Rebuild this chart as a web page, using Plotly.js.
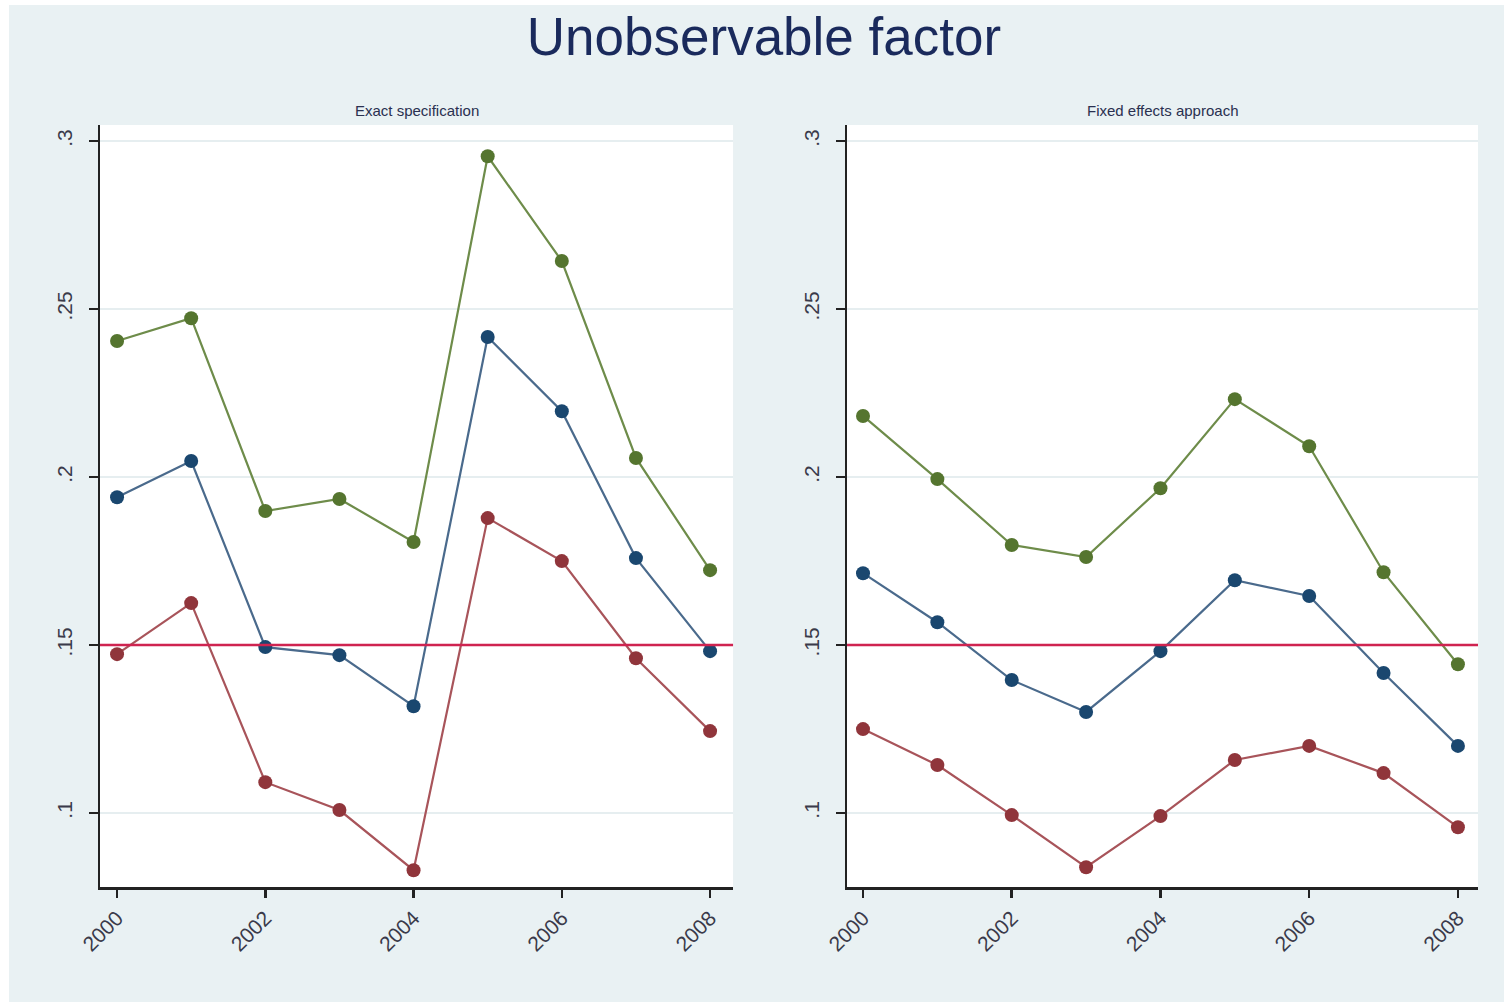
<!DOCTYPE html>
<html>
<head>
<meta charset="utf-8">
<script src="https://cdn.plot.ly/plotly-3.0.1.min.js"></script>
<style>
  html, body { margin: 0; padding: 0; background: #ffffff; }
  #chart { position: absolute; left: 9px; top: 5px; width: 1495px; height: 997px; }
</style>
</head>
<body>
<div id="chart"></div>
<script>
// ---- Data ----
const years = [2000, 2001, 2002, 2003, 2004, 2005, 2006, 2007, 2008];

// Panel 1: Exact specification
const exactUpper = [0.2405, 0.2473, 0.1899, 0.1935, 0.1807, 0.2955, 0.2643, 0.2057, 0.1723];
const exactMid   = [0.1940, 0.2048, 0.1494, 0.1470, 0.1318, 0.2417, 0.2196, 0.1759, 0.1482];
const exactLower = [0.1473, 0.1625, 0.1092, 0.1009, 0.0830, 0.1878, 0.1750, 0.1461, 0.1244];

// Panel 2: Fixed effects approach
const feUpper = [0.2182, 0.1994, 0.1798, 0.1762, 0.1967, 0.2232, 0.2092, 0.1717, 0.1443];
const feMid   = [0.1714, 0.1568, 0.1396, 0.1301, 0.1482, 0.1693, 0.1646, 0.1417, 0.1200];
const feLower = [0.1250, 0.1143, 0.0994, 0.0839, 0.0991, 0.1158, 0.1200, 0.1119, 0.0958];

const trueValue = 0.15;
const panelTitles = ["Exact specification", "Fixed effects approach"];
const mainTitle = "Unobservable factor";
const yTickVals = [0.1, 0.15, 0.2, 0.25, 0.3];
const yTickText = [".1", ".15", ".2", ".25", ".3"];
const xTickVals = [2000, 2002, 2004, 2006, 2008];

// ---- Styles ----
const GREEN = "#55752f", NAVY = "#1a476f", MAROON = "#90353b";
const LINE_GREEN = "#6e8c4a", LINE_NAVY = "#4a6a8c", LINE_MAROON = "#a8545a";

function series(x, y, xa, ya, lineColor, markColor) {
  return {
    x: x, y: y, xaxis: xa, yaxis: ya, type: "scatter", mode: "lines+markers",
    line: { color: lineColor, width: 2.2 },
    marker: { color: markColor, size: 14 },
    showlegend: false, hoverinfo: "skip"
  };
}

const traces = [
  series(years, exactUpper, "x", "y", LINE_GREEN, GREEN),
  series(years, exactMid, "x", "y", LINE_NAVY, NAVY),
  series(years, exactLower, "x", "y", LINE_MAROON, MAROON),
  series(years, feUpper, "x2", "y2", LINE_GREEN, GREEN),
  series(years, feMid, "x2", "y2", LINE_NAVY, NAVY),
  series(years, feLower, "x2", "y2", LINE_MAROON, MAROON)
];

const tickFont = { family: "Liberation Sans, Arial, sans-serif", size: 21, color: "#3a3a4a" };

function xAxis(domain, anchor, range) {
  return {
    domain: domain, anchor: anchor, range: range,
    tickvals: xTickVals, ticktext: xTickVals.map(String),
    tickangle: -45, ticks: "outside", ticklen: 8, tickwidth: 2.5, tickcolor: "#222",
    showline: true, linecolor: "#222", linewidth: 2.5, mirror: false,
    showgrid: false, zeroline: false, tickfont: tickFont, fixedrange: true
  };
}
function yAxis(anchor) {
  return {
    anchor: anchor, domain: [0, 1], range: [0.078, 0.3048],
    tickvals: yTickVals, ticktext: yTickText,
    tickangle: -90, ticks: "outside", ticklen: 9, tickwidth: 2.5, tickcolor: "#222",
    ticklabelstandoff: 8,
    showline: true, linecolor: "#222", linewidth: 2.5,
    showgrid: true, gridcolor: "#e6eef0", gridwidth: 2,
    zeroline: false, tickfont: tickFont, fixedrange: true
  };
}

const dom1 = [0, 0.4594], dom2 = [0.5421, 1];

const layout = {
  width: 1495, height: 997,
  paper_bgcolor: "#e9f1f3", plot_bgcolor: "#ffffff",
  margin: { l: 91, r: 26, t: 120, b: 115 },
  title: {
    text: mainTitle, x: 0.505, xanchor: "center", y: 0.968, yanchor: "middle",
    font: { family: "Liberation Sans, Arial, sans-serif", size: 53, color: "#1a2a5c" }
  },
  xaxis: xAxis(dom1, "y", [1999.77, 2008.31]),
  yaxis: yAxis("x"),
  xaxis2: xAxis(dom2, "y2", [1999.785, 2008.27]),
  yaxis2: yAxis("x2"),
  shapes: [
    { type: "line", xref: "x domain", yref: "y", x0: 0, x1: 1, y0: trueValue, y1: trueValue,
      line: { color: "#cf2350", width: 2.5 }, layer: "above" },
    { type: "line", xref: "x2 domain", yref: "y2", x0: 0, x1: 1, y0: trueValue, y1: trueValue,
      line: { color: "#cf2350", width: 2.5 }, layer: "above" }
  ],
  annotations: [
    { text: panelTitles[0], xref: "paper", yref: "paper", x: (dom1[0] + dom1[1]) / 2, y: 1.0,
      yshift: 15, xanchor: "center", yanchor: "middle", showarrow: false,
      font: { family: "Liberation Sans, Arial, sans-serif", size: 15, color: "#2a3050" } },
    { text: panelTitles[1], xref: "paper", yref: "paper", x: (dom2[0] + dom2[1]) / 2, y: 1.0,
      yshift: 15, xanchor: "center", yanchor: "middle", showarrow: false,
      font: { family: "Liberation Sans, Arial, sans-serif", size: 15, color: "#2a3050" } }
  ]
};

Plotly.newPlot("chart", traces, layout, { displayModeBar: false, staticPlot: true });
</script>
</body>
</html>
